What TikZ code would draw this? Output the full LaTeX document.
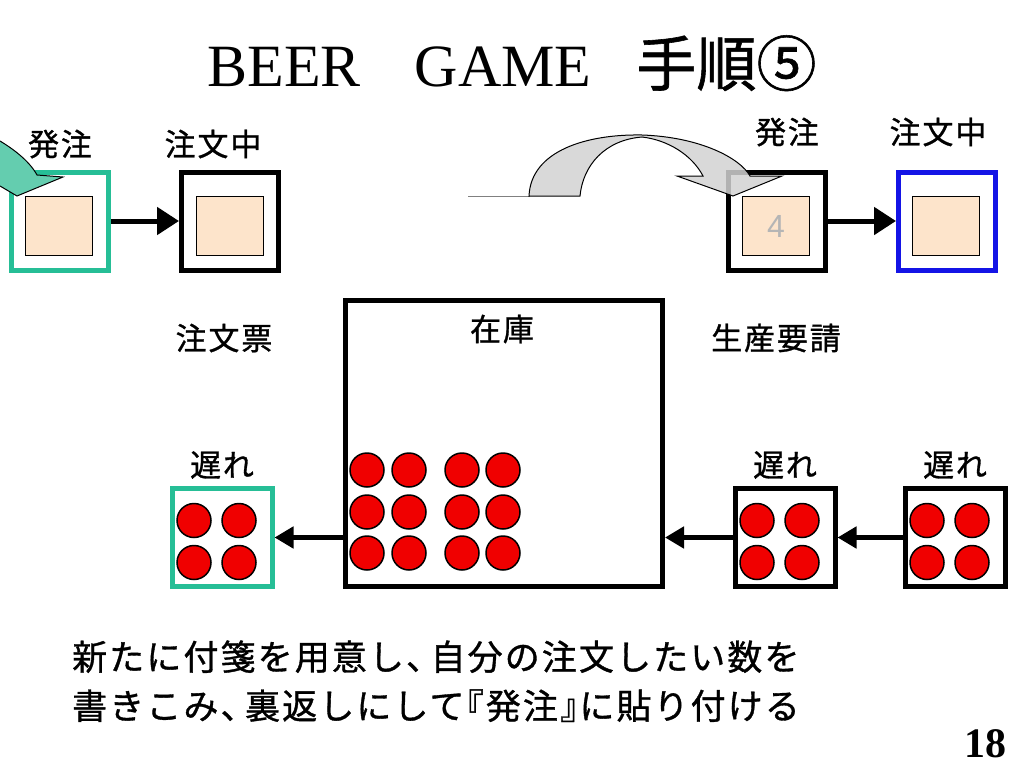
\documentclass[tikz,border=0pt]{standalone}
\usepackage{fontspec}
\setmainfont{Liberation Serif}
\newfontfamily\jpfont[LetterSpace=6, FakeBold=1]{Noto Sans CJK JP}
\newfontfamily\jptitle[FakeBold=1]{Noto Sans CJK JP}
\newfontfamily\numfont{Liberation Sans}
\newcommand\halfcomma{、\kern-.3em}
\usetikzlibrary{arrows.meta}
\definecolor{tealline}{RGB}{38,190,150}
\definecolor{tealfill}{RGB}{100,205,175}
\definecolor{peach}{RGB}{253,228,203}
\definecolor{chipred}{RGB}{240,0,0}
\definecolor{arrowgray}{RGB}{210,210,210}
\definecolor{bluebox}{RGB}{20,20,230}
\begin{document}
\begin{tikzpicture}[x=1pt,y=-1pt,font=\jpfont\fontsize{31}{36}\selectfont]
       \tikzstyle{outerbox}=[draw, line width=5pt, minimum width=97pt, minimum height=98pt, inner sep=0pt]
       \tikzstyle{slip}=[draw, line width=1pt, fill=peach, minimum width=67pt, minimum height=59pt, inner sep=0pt]
       \tikzstyle{delaybox}=[outerbox, minimum width=100pt]
       \tikzstyle{chip}=[circle, draw, line width=1.5pt, fill=chipred, minimum size=34pt, inner sep=0pt]
       \tikzstyle{flow}=[line width=5pt, -{Triangle[length=22pt,width=27pt]}]
       \tikzstyle{backflow}=[line width=5pt, -{Triangle[length=19pt,width=21pt]}]
       \tikzstyle{note}=[anchor=base west, inner sep=0pt, font=\jpfont\fontsize{35}{42}\selectfont]
       \useasboundingbox (0,0) rectangle (1024,768);
       \node[anchor=base] (title) at (512,86) {\rmfamily\fontsize{60}{66}\selectfont BEER\hspace{0.9em}GAME\hspace{0.75em}{\jptitle 手順⑤}};
       % top row
       \node[outerbox, draw=tealline] (orderL) at (60,221) {};
       \node[slip] (slipL) at (59,226) {};
       \node[outerbox] (backlogL) at (230,221) {};
       \node[slip] (slipBL) at (230,226) {};
       \draw[flow] (orderL) -- (backlogL);
       \node (lblOrderL) at (60,144) {発注};
       \node (lblBacklogL) at (213,144) {注文中};
       \node[outerbox] (orderR) at (777,221) {};
       \node[slip, text=gray!58, font=\numfont\fontsize{32}{36}\selectfont] (slipR) at (776,226) {4};
       \node[outerbox, draw=bluebox] (backlogR) at (947,221) {};
       \node[slip] (slipBR) at (946,226) {};
       \draw[flow] (orderR) -- (backlogR);
       \node (lblOrderR) at (787,132) {発注};
       \node (lblBacklogR) at (938,132) {注文中};
       % curved arrows
       \filldraw[fill=tealfill, draw=black, line width=1pt] (0,141) .. controls (15,150) and (30,162) .. (37,175) -- (63,177) -- (17,196) -- (0,186);
       \draw[line width=1pt, gray] (468,196) -- (530,196);
       \filldraw[fill=arrowgray, fill opacity=0.85, draw=black, line width=1pt] (529,196) .. controls (531,150) and (588,134) .. (642,135) .. controls (700,137) and (740,158) .. (750,176) -- (782,176) -- (733,196) -- (677,176) -- (703,176) .. controls (692,155) and (668,140) .. (642,137) .. controls (605,140) and (583,165) .. (580,196) -- cycle;
       % stock
       \node[outerbox, minimum width=317pt, minimum height=286pt] (stock) at (504,443.5) {};
       \node (lblStock) at (502,329) {在庫};
       \node (lblSlip) at (224,338) {注文票};
       \node (lblRequest) at (776,338) {生産要請};
       \foreach \cx [count=\i] in {367,409,462,503}
         \foreach \cy [count=\j] in {470,512,553}
           \node[chip] (stock-\i-\j) at (\cx,\cy) {};
       % delays
       \node[delaybox, draw=tealline] (delayL) at (222,537.5) {};
       \node[delaybox] (delayM) at (785,537.5) {};
       \node[delaybox] (delayR) at (955,537.5) {};
       \node (lblDelayL) at (222,465) {遅れ};
       \node (lblDelayM) at (785,465) {遅れ};
       \node (lblDelayR) at (955,465) {遅れ};
       \foreach \bx in {delayL,delayM,delayR}
         \foreach \dx/\dy [count=\k] in {-28/-17, 17/-17, -28/25, 17/25}
           \node[chip] (\bx-\k) at ([shift={(\dx,\dy)}]\bx.center) {};
       \draw[backflow] (stock.west |- delayL) -- (delayL);
       \draw[backflow] (delayM) -- (stock.east |- delayM);
       \draw[backflow] (delayR) -- (delayM);
       % note
       \node[note] (noteA) at (72,670) {新たに付箋を用意し\halfcomma 自分の注文したい数を};
       \node[note] (noteB) at (72,719) {書きこみ\halfcomma 裏返しにして\kern-.45em『発注』\kern-.45em に貼り付ける};
       \node[anchor=base, font=\rmfamily\bfseries\fontsize{42}{48}\selectfont] (pageno) at (985,757) {18};
\end{tikzpicture}
\end{document}
